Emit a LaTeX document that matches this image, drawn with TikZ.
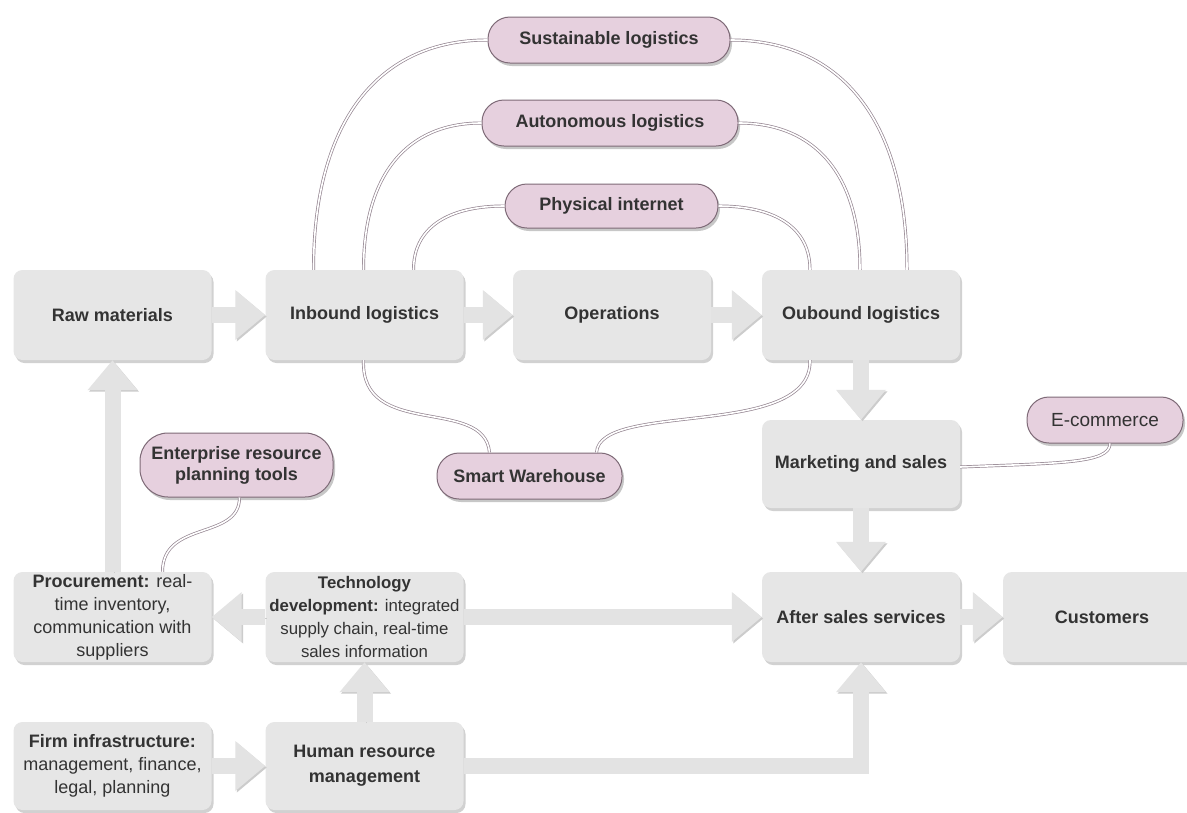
\documentclass[tikz,border=0pt]{standalone}
\usepackage{fontspec}
\setmainfont{Liberation Sans}
\usetikzlibrary{shadows,arrows.meta}
\definecolor{boxgray}{HTML}{E6E6E6}
\definecolor{arrowgray}{HTML}{E3E3E3}
\definecolor{pinkfill}{HTML}{E6D0DE}
\definecolor{pinkline}{HTML}{7E6A77}
\definecolor{linkline}{HTML}{948591}
\definecolor{txt}{HTML}{333333}

\begin{document}
\begin{tikzpicture}[x=1pt,y=-1pt,
  every node/.style={font=\fontsize{18}{23}\selectfont, text=txt},
  stage/.style={rectangle, rounded corners=9pt, fill=boxgray,
    minimum width=198pt, minimum height=90pt, align=center, inner sep=2pt,
    drop shadow={shadow xshift=2pt, shadow yshift=-3pt, fill=black, opacity=0.18}},
  boldstage/.style={stage, font=\bfseries\fontsize{18}{25}\selectfont},
  trend/.style={rectangle, draw=pinkline, line width=1pt, fill=pinkfill,
    rounded corners=22pt, minimum height=46pt, align=center, inner sep=2pt,
    font=\bfseries\fontsize{18}{21}\selectfont,
    drop shadow={shadow xshift=2pt, shadow yshift=-3pt, fill=black, opacity=0.22}},
  flow/.style={draw=arrowgray, line width=16pt, -{Triangle[width=48pt,length=30pt]},
    preaction={draw=black!20, transform canvas={shift={(1.5pt,-1.5pt)}}}},
  link/.style={draw=linkline, line width=0.7pt, double=white, double distance=1.6pt}
]
\clip (0,0) rectangle (1187,812);
\fill[white] (0,0) rectangle (1187,812);

% value chain stages
\node[boldstage] (raw) at (112.5,315) {Raw materials};
\node[boldstage] (inb) at (364.5,315) {Inbound logistics};
\node[boldstage] (ops) at (612,315) {Operations};
\node[boldstage] (oub) at (861,315) {Oubound logistics};
\node[boldstage, minimum height=88pt] (mkt) at (861,464) {Marketing and sales};
\node[boldstage] (as) at (861,617) {After sales services};
\node[boldstage] (cus) at (1102,617) {Customers};
\node[stage] (proc) at (112.5,617) {\textbf{Procurement:} real-\\time inventory,\\communication with\\suppliers};
\node[stage, font=\fontsize{16.8}{23}\selectfont] (tech) at (364.5,617) {\textbf{Technology}\\\textbf{development:} integrated\\supply chain, real-time\\sales information};
\node[stage, minimum height=88pt] (firm) at (112.5,766) {\textbf{Firm infrastructure:}\\management, finance,\\legal, planning};
\node[boldstage, minimum height=88pt] (hr) at (364.5,766) {Human resource\\management};

% logistics trends
\node[trend, minimum width=242pt] (sus) at (609,40) {Sustainable logistics};
\node[trend, minimum width=256pt] (aut) at (610,123) {Autonomous logistics};
\node[trend, minimum width=213pt, minimum height=44pt] (phy) at (611.5,206) {Physical internet};
\node[trend, minimum width=156pt, font=\fontsize{19}{21}\selectfont] (ecom) at (1105,420) {E-commerce};
\node[trend, minimum width=185pt] (smart) at (529.5,476) {Smart Warehouse};
\node[trend, minimum width=193pt, minimum height=64pt, rounded corners=28pt] (erp) at (236.5,465) {Enterprise resource\\planning tools};

% block arrows between stages
\draw[flow] (raw.east) -- (inb.west);
\draw[flow] (inb.east) -- (ops.west);
\draw[flow] (ops.east) -- (oub.west);
\draw[flow] (oub.south) -- (mkt.north);
\draw[flow] (mkt.south) -- (as.north);
\draw[flow] (as.east) -- (cus.west);
\draw[flow] (tech.west) -- (proc.east);
\draw[flow] (tech.east) -- (as.west);
\draw[flow] (proc.north) -- (raw.south);
\draw[flow] (firm.east) -- (hr.west);
\draw[flow] (hr.north) -- (tech.south);
\draw[flow] (hr.east) -| (as.south);

% trend links
\draw[link] ([xshift=-51pt]inb.north) .. controls +(0,-150) and +(-108,0) .. (sus.west);
\draw[link] (sus.east) .. controls +(110,0) and +(0,-150) .. ([xshift=46pt]oub.north);
\draw[link] ([xshift=-1pt]inb.north) .. controls +(0,-96) and +(-74,0) .. (aut.west);
\draw[link] (aut.east) .. controls +(76,0) and +(0,-96) .. ([xshift=-1pt]oub.north);
\draw[link] ([xshift=49pt]inb.north) .. controls +(0,-42) and +(-57,0) .. (phy.west);
\draw[link] (phy.east) .. controls +(57,0) and +(0,-42) .. ([xshift=-51pt]oub.north);
\draw[link] ([xshift=-1pt]inb.south) .. controls +(-3,80) and +(-5,-57) .. ([xshift=-40pt]smart.north);
\draw[link] ([xshift=-51pt]oub.south) .. controls +(2,80) and +(3,-52) .. ([xshift=67pt]smart.north);
\draw[link] ([yshift=-3pt]mkt.east) .. controls +(100,-4) and +(0,20) .. ([xshift=5pt]ecom.south);
\draw[link] ([xshift=3pt]erp.south) .. controls +(0,43) and +(0,-52) .. ([xshift=50pt]proc.north);
\end{tikzpicture}
\end{document}
